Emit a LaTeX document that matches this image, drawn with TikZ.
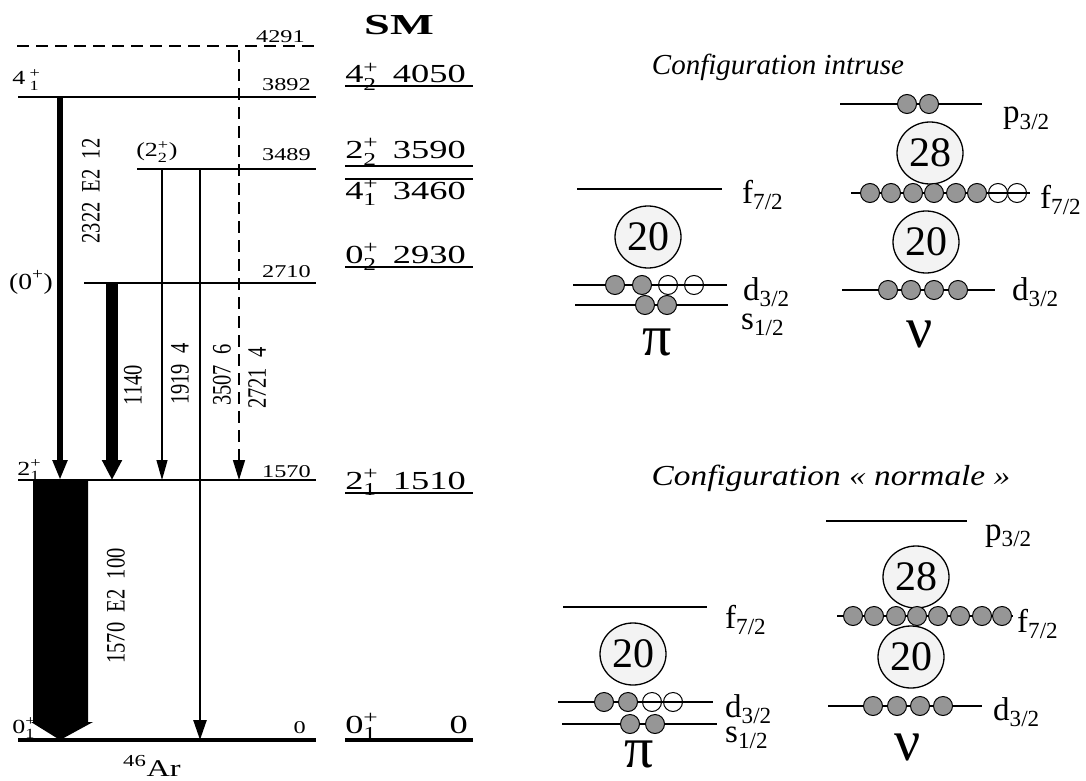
\documentclass[tikz,border=0pt]{standalone}
\usepackage{fontspec}
\setmainfont{Liberation Serif}
\usepackage{amsmath}
\usetikzlibrary{arrows.meta,shapes.geometric}
\definecolor{dotgray}{RGB}{150,150,150}
\definecolor{magfill}{RGB}{243,243,243}
\newcommand\stk[3]{#1\ensuremath{^{\text{#3}}_{\text{#2}}}}
\begin{document}
\begin{tikzpicture}[x=1pt,y=-1pt,
  lvl/.style={line width=2pt},
  gnd/.style={line width=3.5pt},
  elab/.style={font=\fontsize{18}{20}\selectfont, xscale=1.35, inner sep=0pt},
  jlab/.style={font=\fontsize{20}{22}\selectfont, xscale=1.3, inner sep=0pt, anchor=base west},
  rlab/.style={font=\fontsize{20.5}{22}\selectfont, xscale=1.3, rotate=90, inner sep=0pt},
  smlab/.style={font=\fontsize{26}{28}\selectfont, xscale=1.4, inner sep=0pt},
  orb/.style={font=\fontsize{33}{35}\selectfont, inner sep=0pt, anchor=base west},
  greek/.style={font=\fontsize{58}{60}\selectfont, inner sep=0pt, anchor=base},
  title/.style={font=\fontsize{29}{31}\selectfont\itshape, inner sep=0pt, anchor=base},
  shell/.style={line width=1.5pt},
  magic/.style={ellipse, draw, line width=1.3pt, fill=magfill, minimum width=66pt, minimum height=62pt, inner sep=0pt, font=\fontsize{42}{44}\selectfont},
  fdot/.style={circle, draw, line width=1pt, fill=dotgray, minimum size=19pt, inner sep=0pt},
  odot/.style={circle, draw, line width=1pt, minimum size=19pt, inner sep=0pt},
  gtip/.style={-{Triangle[length=20pt,width=#1]}},
]
\useasboundingbox (0,0) rectangle (1086,781);

% ---------------- level scheme of 46Ar ----------------
\draw[lvl, dash pattern=on 12pt off 7pt] (17,46) -- (316,46);
\draw[lvl] (18,97) -- (316,97);
\draw[lvl] (137,169) -- (316,169);
\draw[lvl] (84,283) -- (316,283);
\draw[lvl] (18,480) -- (316,480);
\draw[gnd] (18,740) -- (316,740);

\node[elab, anchor=base east] (v4291) at (305,43) {4291};
\node[elab, anchor=base east] (v3892) at (311,91) {3892};
\node[elab, anchor=base east] (v3489) at (311,160) {3489};
\node[elab, anchor=base east] (v2710) at (311,277) {2710};
\node[elab, anchor=base east] (v1570) at (311,477) {1570};
\node[elab, anchor=base east] (v0) at (306,733) {0};

\node[jlab] (j41) at (12,85) {\stk{4\,}{1}{+}};
\node[jlab] (j22) at (136,157) {(\stk{2}{2}{+})};
\node[font=\fontsize{23}{25}\selectfont, xscale=1.2, inner sep=0pt, anchor=base west] (j02) at (9,289) {(0\textsuperscript{+})};
\node[jlab] (j21) at (17,475) {\stk{2}{1}{+}};
\node[jlab] (j01) at (12,733) {\stk{0}{1}{+}};

% transitions
\coordinate (a1) at (60,97);   \coordinate (b1) at (60,480);
\coordinate (a2) at (112,283); \coordinate (b2) at (112,480);
\coordinate (a3) at (162,169); \coordinate (b3) at (162,480);
\coordinate (a4) at (200,169); \coordinate (b4) at (200,740);
\coordinate (a5) at (239,50);  \coordinate (b5) at (239,480);
\draw[gtip=14pt, line width=6.5pt] (a1) -- (b1);
\draw[gtip=19pt, line width=12pt] (a2) -- (b2);
\draw[gtip=11pt, line width=1.2pt] (a3) -- (b3);
\draw[gtip=13pt, line width=2.5pt] (a4) -- (b4);
\draw[gtip=12pt, line width=1.5pt, dash pattern=on 12pt off 7pt] (a5) -- (b5);
\fill (33,481) -- (88,481) -- (88,722) -- (93,722) -- (60,740) -- (31,722) -- (33,722) -- cycle;

\node[rlab] (g2322) at (91,191) {2322\enspace E2\enspace 12};
\node[rlab] (g1140) at (133,385) {1140};
\node[rlab] (g1919) at (180,374) {1919\enspace 4};
\node[rlab] (g3507) at (222,375) {3507\enspace 6};
\node[rlab] (g2721) at (257,378) {2721\enspace 4};
\node[rlab] (g1570) at (116,606) {1570\enspace E2\enspace 100};

\node[font=\fontsize{24}{26}\selectfont, xscale=1.35, inner sep=0pt, anchor=base] (nuc) at (152,776) {\textsuperscript{46}Ar};

% ---------------- shell model ----------------
\node[font=\fontsize{29}{31}\selectfont\bfseries, xscale=1.6, inner sep=0pt] (sm) at (399,25) {SM};
\node[smlab, anchor=base west] (s42) at (345,83) {\stk{4}{2}{+}};
\node[smlab, anchor=base east] (e42) at (466,83) {4050};
\draw[lvl] (345,86) -- (473,86);
\node[smlab, anchor=base west] (s22) at (345,158) {\stk{2}{2}{+}};
\node[smlab, anchor=base east] (e22) at (466,158) {3590};
\draw[lvl] (345,166) -- (473,166);
\draw[lvl] (345,179) -- (473,179);
\node[smlab, anchor=base west] (s41) at (345,199) {\stk{4}{1}{+}};
\node[smlab, anchor=base east] (e41) at (466,199) {3460};
\node[smlab, anchor=base west] (s02) at (345,263) {\stk{0}{2}{+}};
\node[smlab, anchor=base east] (e02) at (466,263) {2930};
\draw[lvl] (345,267) -- (473,267);
\node[smlab, anchor=base west] (s21) at (345,489) {\stk{2}{1}{+}};
\node[smlab, anchor=base east] (e21) at (466,489) {1510};
\draw[lvl] (345,493) -- (473,493);
\node[smlab, anchor=base west] (s01) at (345,733) {\stk{0}{1}{+}};
\node[smlab, anchor=base east] (e01) at (468,733) {0};
\draw[gnd] (345,740) -- (473,740);

% ---------------- configuration intruse ----------------
\node[title] (t1) at (778,75) {Configuration intruse};
% protons
\draw[shell] (577,189) -- (722,189);
\draw[shell] (573,285) -- (727,285);
\draw[shell] (575,305) -- (728,305);
\node[magic] (m1) at (648,237) {20};
\foreach \x/\s in {615/f,642/f,668/o,694/o} \node[\s dot] (ip\x) at (\x,285) {};
\foreach \x in {645,667} \node[fdot] (is\x) at (\x,305) {};
\node[orb] (o1) at (742,203) {f\textsubscript{7/2}};
\node[orb] (o2) at (743,300) {d\textsubscript{3/2}};
\node[orb] (o3) at (741,329) {s\textsubscript{1/2}};
\node[greek] (pi1) at (657,355) {π};
% neutrons
\draw[shell] (840,104) -- (982,104);
\draw[shell] (851,193) -- (1030,193);
\draw[shell] (842,290) -- (995,290);
\node[magic] (m2) at (930,153) {28};
\node[magic] (m3) at (926,242) {20};
\foreach \x in {907,929} \node[fdot] (ipp\x) at (\x,104) {};
\foreach \x/\s in {870/f,891/f,913/f,934/f,956/f,977/f,998/o,1017/o} \node[\s dot] (if\x) at (\x,193) {};
\foreach \x in {888,911,934,958} \node[fdot] (id\x) at (\x,290) {};
\node[orb] (o4) at (1003,123) {p\textsubscript{3/2}};
\node[orb] (o5) at (1040,208) {f\textsubscript{7/2}};
\node[orb] (o6) at (1012,300) {d\textsubscript{3/2}};
\node[greek] (nu1) at (920,347) {ν};

% ---------------- configuration normale ----------------
\node[title, xscale=1.15] (t2) at (831,485) {Configuration « normale »};
% protons
\draw[shell] (563,607) -- (707,607);
\draw[shell] (558,702) -- (713,702);
\draw[shell] (562,724) -- (717,724);
\node[magic] (m4) at (633,654) {20};
\foreach \x/\s in {604/f,628/f,652/o,673/o} \node[\s dot] (np\x) at (\x,702) {};
\foreach \x in {630,655} \node[fdot] (ns\x) at (\x,724) {};
\node[orb] (o7) at (725,628) {f\textsubscript{7/2}};
\node[orb] (o8) at (725,717) {d\textsubscript{3/2}};
\node[orb] (o9) at (725,742) {s\textsubscript{1/2}};
\node[greek] (pi2) at (639,767) {π};
% neutrons
\draw[shell] (826,521) -- (967,521);
\draw[shell] (837,616) -- (1013,616);
\draw[shell] (828,706) -- (982,706);
\node[magic] (m5) at (916,577) {28};
\node[magic] (m6) at (911,657) {20};
\foreach \x in {853,874,896,917,938,960,982,1002} \node[fdot] (nf\x) at (\x,616) {};
\foreach \x in {873,897,920,943} \node[fdot] (nd\x) at (\x,706) {};
\node[orb] (o10) at (985,540) {p\textsubscript{3/2}};
\node[orb] (o11) at (1017,632) {f\textsubscript{7/2}};
\node[orb] (o12) at (993,720) {d\textsubscript{3/2}};
\node[greek] (nu2) at (908,760) {ν};
\end{tikzpicture}
\end{document}
